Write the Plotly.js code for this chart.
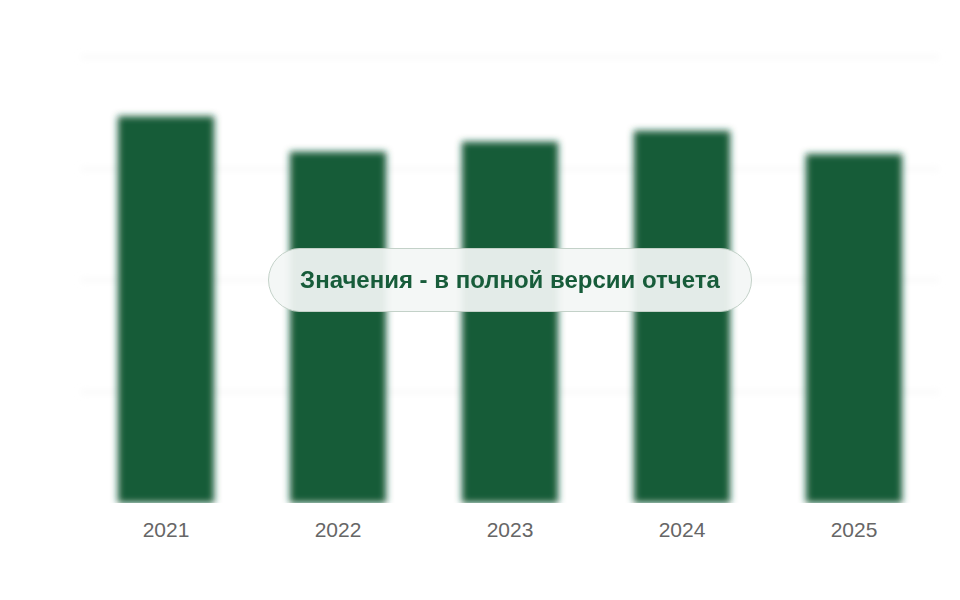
<!DOCTYPE html>
<html>
<head>
<meta charset="utf-8">
<script src="https://cdn.plot.ly/plotly-3.0.1.min.js"></script>
<style>
  body { margin: 0; background: #fff; }
  #wrap { position: relative; width: 960px; height: 600px; }
  #chart { width: 960px; height: 600px; }
  #note {
    position: absolute; left: 268px; top: 248px; width: 482px; height: 62px;
    border: 1.5px solid #c3d1c8; border-radius: 32px;
    background: rgba(243, 246, 245, 0.93);
    display: flex; align-items: center; justify-content: center;
    font-family: "Liberation Sans", Arial, sans-serif; font-weight: bold;
    font-size: 24px; color: #175c3a;
  }
</style>
</head>
<body>
<svg width="0" height="0" style="position:absolute">
  <defs>
    <filter id="softblur" x="-20%" y="-20%" width="140%" height="140%">
      <feGaussianBlur stdDeviation="3.5"></feGaussianBlur>
    </filter>
  </defs>
</svg>
<div id="wrap">
  <div id="chart"></div>
  <div id="note">Значения - в полной версии отчета</div>
</div>
<script>
    // years and (hidden) values
    var years = ['2021', '2022', '2023', '2024', '2025'];
    var values = [347, 315, 324, 334, 313];
    var barColor = '#165c38';

    var data = [{
        x: years,
        y: values,
        type: 'bar',
        marker: {color: barColor},
        hoverinfo: 'none'
    }];

    var layout = {
        width: 960,
        height: 600,
        margin: {l: 80, r: 20, t: 56, b: 97},
        bargap: 0.44,
        showlegend: false,
        paper_bgcolor: '#ffffff',
        plot_bgcolor: '#ffffff',
        xaxis: {
            type: 'category',
            showgrid: false,
            zeroline: false,
            showline: false,
            ticks: '',
            ticklabelstandoff: 12,
            tickfont: {family: 'Liberation Sans, Arial, sans-serif', size: 21, color: '#666666'}
        },
        yaxis: {
            range: [0, 401],
            dtick: 100,
            showgrid: true,
            gridcolor: '#f2f2f2',
            gridwidth: 2,
            zeroline: false,
            showticklabels: false,
            ticks: ''
        }
    };
    var config = {responsive: false, displayModeBar: false, staticPlot: true};
    Plotly.newPlot('chart', data, layout, config).then(function (gd) {
        var bars = gd.querySelectorAll('.barlayer, .gridlayer');
        bars.forEach(function (g) { g.setAttribute('filter', 'url(#softblur)'); });
    });
</script>
</body>
</html>
